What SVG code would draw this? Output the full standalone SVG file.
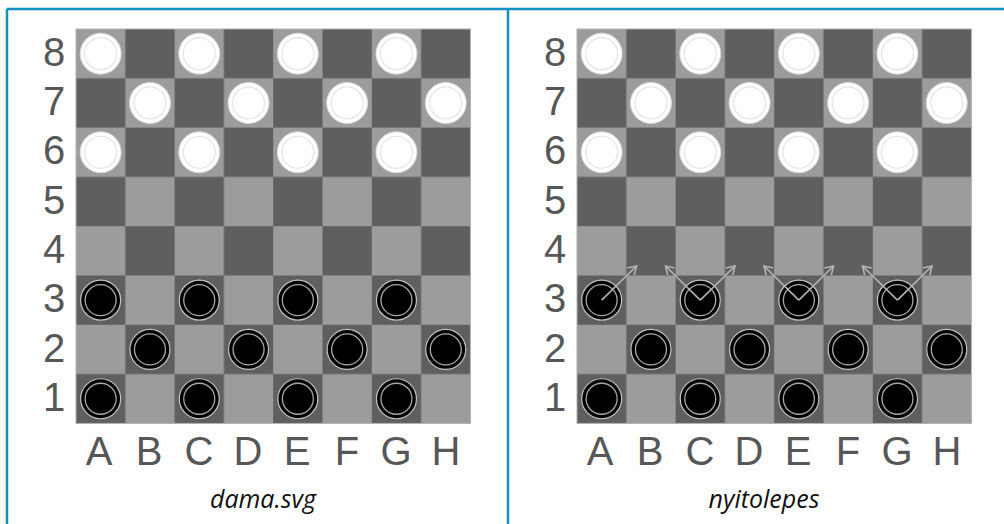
<svg xmlns="http://www.w3.org/2000/svg" xmlns:xlink="http://www.w3.org/1999/xlink" width="1004" height="524" viewBox="0 0 1004 524">
<style>
.frame{stroke:#0f8fc6;stroke-width:2.5;fill:none}
.lbl{font-family:"Liberation Sans",Arial,sans-serif;font-size:40px;fill:#575757;text-anchor:middle}
.cap{font-family:"Open Sans","Noto Sans",sans-serif;font-style:italic;font-size:25px;fill:#111;text-anchor:middle}
.arrow{stroke:#b4b4b4;stroke-width:1.6;fill:none;marker-end:url(#head)}
</style>
<defs>
<pattern id="checker" patternUnits="userSpaceOnUse" x="76" y="29" width="98.6" height="98.6">
<rect width="98.6" height="98.6" fill="#9c9c9c"/>
<rect x="49.3" y="0" width="49.3" height="49.3" fill="#5f5f5f"/>
<rect x="0" y="49.3" width="49.3" height="49.3" fill="#5f5f5f"/>
</pattern>
<g id="wp"><circle r="20.5" fill="#fff" stroke="#d8d8d8" stroke-width="1"/><circle r="16" fill="none" stroke="#e4e4e4" stroke-width="1.2"/></g>
<g id="bp"><circle r="20" fill="#000" stroke="#c4c4c4" stroke-width="1.2"/><circle r="15.5" fill="none" stroke="#a8a8a8" stroke-width="1.3"/></g>
<marker id="head" markerUnits="userSpaceOnUse" viewBox="-10 -6 12 12" refX="0" refY="0" markerWidth="12" markerHeight="12" orient="auto">
<path d="M-8,-5 L0,0 L-8,5" fill="none" stroke="#b4b4b4" stroke-width="1.6"/>
</marker>
</defs>
<rect width="1004" height="524" fill="#fff"/>
<g id="frame">
<path class="frame" d="M7,9 H1004 M7,9 V524 M508,9 V524"/>
</g>
<g id="board1">
<rect x="76" y="29" width="394.4" height="394.4" style="fill:url(#checker)"/>
<rect x="76" y="29" width="394.4" height="394.4" fill="none" stroke="#b0b0b0" stroke-width="1"/>
<g id="white1">
<use href="#wp" x="100.65" y="53.65"/><use href="#wp" x="199.25" y="53.65"/><use href="#wp" x="297.85" y="53.65"/><use href="#wp" x="396.45" y="53.65"/>
<use href="#wp" x="149.95" y="102.95"/><use href="#wp" x="248.55" y="102.95"/><use href="#wp" x="347.15" y="102.95"/><use href="#wp" x="445.75" y="102.95"/>
<use href="#wp" x="100.65" y="152.25"/><use href="#wp" x="199.25" y="152.25"/><use href="#wp" x="297.85" y="152.25"/><use href="#wp" x="396.45" y="152.25"/>
</g>
<g id="black1">
<use href="#bp" x="100.65" y="300.15"/><use href="#bp" x="199.25" y="300.15"/><use href="#bp" x="297.85" y="300.15"/><use href="#bp" x="396.45" y="300.15"/>
<use href="#bp" x="149.95" y="349.45"/><use href="#bp" x="248.55" y="349.45"/><use href="#bp" x="347.15" y="349.45"/><use href="#bp" x="445.75" y="349.45"/>
<use href="#bp" x="100.65" y="398.75"/><use href="#bp" x="199.25" y="398.75"/><use href="#bp" x="297.85" y="398.75"/><use href="#bp" x="396.45" y="398.75"/>
</g>
<g id="ranks1">
<text class="lbl" x="54" y="66">8</text><text class="lbl" x="54" y="115">7</text><text class="lbl" x="54" y="164">6</text><text class="lbl" x="54" y="214">5</text>
<text class="lbl" x="54" y="263">4</text><text class="lbl" x="54" y="312">3</text><text class="lbl" x="54" y="362">2</text><text class="lbl" x="54" y="411">1</text>
</g>
<g id="files1">
<text class="lbl" x="99" y="465">A</text><text class="lbl" x="149" y="465">B</text><text class="lbl" x="199" y="465">C</text><text class="lbl" x="248" y="465">D</text>
<text class="lbl" x="297" y="465">E</text><text class="lbl" x="347" y="465">F</text><text class="lbl" x="396" y="465">G</text><text class="lbl" x="446" y="465">H</text>
</g>
<text class="cap" x="263" y="508">dama.svg</text>
</g>
<g id="board2" transform="translate(501,0)">
<rect x="76" y="29" width="394.4" height="394.4" style="fill:url(#checker)"/>
<rect x="76" y="29" width="394.4" height="394.4" fill="none" stroke="#b0b0b0" stroke-width="1"/>
<g id="white2">
<use href="#wp" x="100.65" y="53.65"/><use href="#wp" x="199.25" y="53.65"/><use href="#wp" x="297.85" y="53.65"/><use href="#wp" x="396.45" y="53.65"/>
<use href="#wp" x="149.95" y="102.95"/><use href="#wp" x="248.55" y="102.95"/><use href="#wp" x="347.15" y="102.95"/><use href="#wp" x="445.75" y="102.95"/>
<use href="#wp" x="100.65" y="152.25"/><use href="#wp" x="199.25" y="152.25"/><use href="#wp" x="297.85" y="152.25"/><use href="#wp" x="396.45" y="152.25"/>
</g>
<g id="black2">
<use href="#bp" x="100.65" y="300.15"/><use href="#bp" x="199.25" y="300.15"/><use href="#bp" x="297.85" y="300.15"/><use href="#bp" x="396.45" y="300.15"/>
<use href="#bp" x="149.95" y="349.45"/><use href="#bp" x="248.55" y="349.45"/><use href="#bp" x="347.15" y="349.45"/><use href="#bp" x="445.75" y="349.45"/>
<use href="#bp" x="100.65" y="398.75"/><use href="#bp" x="199.25" y="398.75"/><use href="#bp" x="297.85" y="398.75"/><use href="#bp" x="396.45" y="398.75"/>
</g>
<g id="ranks2">
<text class="lbl" x="54" y="66">8</text><text class="lbl" x="54" y="115">7</text><text class="lbl" x="54" y="164">6</text><text class="lbl" x="54" y="214">5</text>
<text class="lbl" x="54" y="263">4</text><text class="lbl" x="54" y="312">3</text><text class="lbl" x="54" y="362">2</text><text class="lbl" x="54" y="411">1</text>
</g>
<g id="files2">
<text class="lbl" x="99" y="465">A</text><text class="lbl" x="149" y="465">B</text><text class="lbl" x="199" y="465">C</text><text class="lbl" x="248" y="465">D</text>
<text class="lbl" x="297" y="465">E</text><text class="lbl" x="347" y="465">F</text><text class="lbl" x="396" y="465">G</text><text class="lbl" x="446" y="465">H</text>
</g>
<text class="cap" x="263" y="508">nyitolepes</text>
<g id="connectors">
<line class="arrow" x1="100.65" y1="300.15" x2="135.5" y2="266"/>
<line class="arrow" x1="199.25" y1="300.15" x2="164.5" y2="266"/>
<line class="arrow" x1="199.25" y1="300.15" x2="234" y2="266"/>
<line class="arrow" x1="297.85" y1="300.15" x2="263" y2="266"/>
<line class="arrow" x1="297.85" y1="300.15" x2="332.5" y2="266"/>
<line class="arrow" x1="396.45" y1="300.15" x2="361.5" y2="266"/>
<line class="arrow" x1="396.45" y1="300.15" x2="431" y2="266"/>
</g>
</g>
</svg>
